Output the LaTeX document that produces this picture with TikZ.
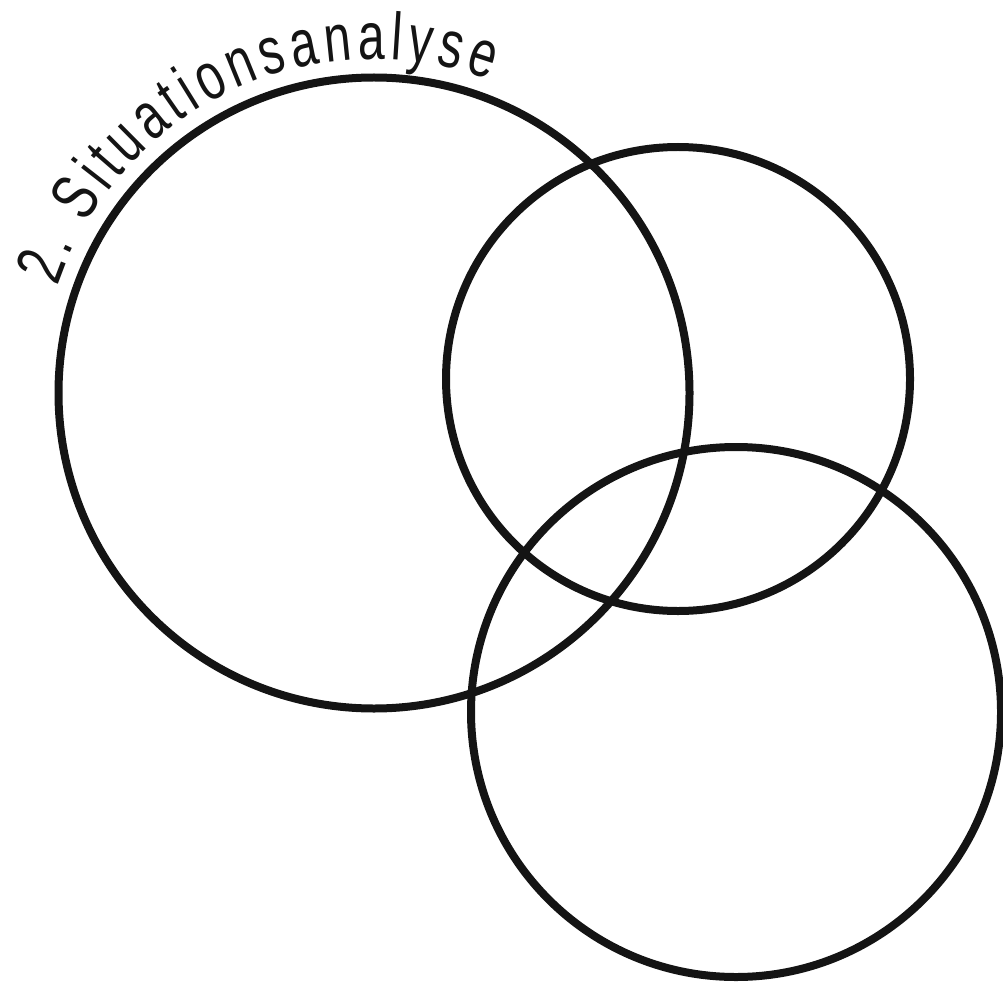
\documentclass[tikz,border=0pt]{standalone}
\usepackage{fontspec}
\usepackage{tikz}
\usetikzlibrary{decorations.text}
\newfontfamily\arclabelfont[FakeStretch=0.72]{Liberation Sans}

\begin{document}
\begin{tikzpicture}[x=0.02cm, y=0.02cm, ring/.style={draw=black!92, line width=0.16cm}]
\useasboundingbox (0,0) rectangle (1003,992);
\coordinate (big) at (374,599);
\coordinate (upper) at (678,613);
\coordinate (lower) at (736,280);
\draw[ring] (big) circle[radius=315.5];
\draw[ring] (upper) circle[radius=232];
\draw[ring] (lower) circle[radius=265];
\path[decorate, decoration={text along path, text align={fit to path},
    text={|\arclabelfont\fontsize{38}{44}\selectfont\color{black!92}|2. Situationsanalyse}}]
    ([shift={(161.5:334)}]big) arc[start angle=161.5, end angle=69.7, radius=334];
\end{tikzpicture}
\end{document}
